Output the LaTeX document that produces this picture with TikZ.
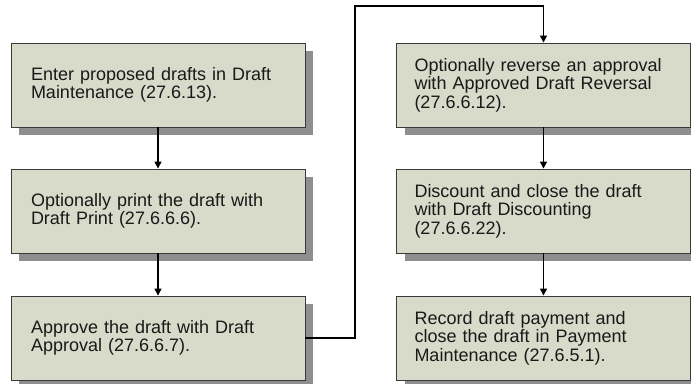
\documentclass[tikz,border=0pt]{standalone}
\usepackage{fontspec}
\setmainfont{Liberation Sans}
\usepackage{xcolor}
\usepackage{tikz}
\usetikzlibrary{arrows.meta,positioning,shadows}
\definecolor{stepfill}{HTML}{D8DACA}
\definecolor{stepline}{HTML}{3A3A3A}
\definecolor{shadowgrey}{HTML}{8E8E8E}

\begin{document}
\begin{tikzpicture}[
    x=1pt, y=1pt,
    box/.style={rectangle, draw=stepline, line width=0.9pt, fill=stepfill,
        drop shadow={shadow xshift=8pt, shadow yshift=-8pt, fill=shadowgrey, opacity=1},
        text width=258pt, inner xsep=18pt, inner ysep=0pt, minimum height=84pt,
        align=left, font=\fontsize{18}{18.6}\selectfont, text=black!90},
    arrow/.style={-{Triangle[length=7pt,width=7pt]}, line width=1.4pt, black}
]
    \useasboundingbox (0,0) rectangle (691,-383);

    % Nodes
    \node[box] (enter) at (158,-85) {\hspace*{2pt}Enter proposed drafts in Draft\\\hspace*{2pt}Maintenance (27.6.13).};
    \node[box] (print) at (158,-211) {\hspace*{2pt}Optionally print the draft with\\\hspace*{2pt}Draft Print (27.6.6.6).};
    \node[box] (approve) at (158,-338) {\hspace*{2pt}Approve the draft with Draft\\\hspace*{2pt}Approval (27.6.6.7).};
    \node[box] (reverse) at (543.5,-85) {Optionally reverse an approval\\with Approved Draft Reversal\\(27.6.6.12).};
    \node[box] (discount) at (543.5,-211) {Discount and close the draft\\with Draft Discounting\\(27.6.6.22).};
    \node[box] (payment) at (543.5,-338) {Record draft payment and\\close the draft in Payment\\Maintenance (27.6.5.1).};
    \coordinate (turn) at (355,-6);

    % Arrows
    \draw[arrow] (enter) -- (print);
    \draw[arrow] (print) -- (approve);
    \draw[arrow] (approve.east) -| (turn) -| (reverse.north);
    \draw[arrow] (reverse) -- (discount);
    \draw[arrow] (discount) -- (payment);
\end{tikzpicture}
\end{document}
